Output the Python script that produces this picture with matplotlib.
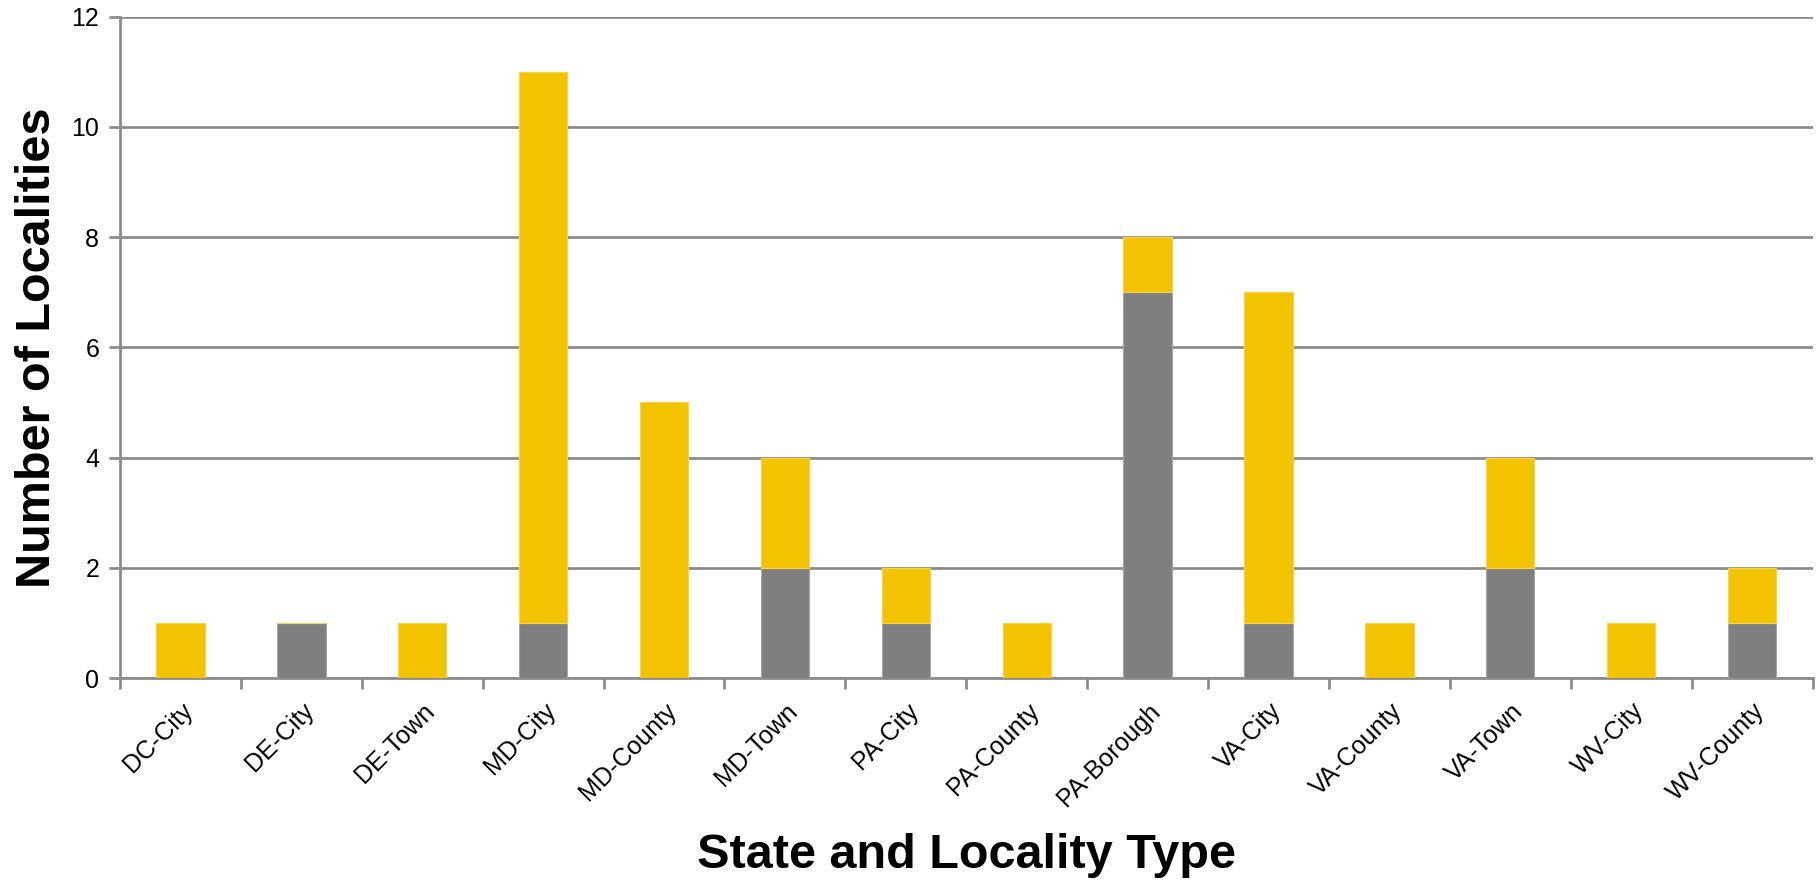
"""
Localities by state and locality type - stacked bar chart
"""

import numpy as np
import matplotlib
matplotlib.use('Agg')
import matplotlib.pyplot as plt
import matplotlib.transforms as mtransforms

matplotlib.rcParams['font.family'] = ['Liberation Sans', 'DejaVu Sans']

# data
categories = ['DC-City', 'DE-City', 'DE-Town', 'MD-City', 'MD-County', 'MD-Town',
              'PA-City', 'PA-County', 'PA-Borough', 'VA-City', 'VA-County',
              'VA-Town', 'WV-City', 'WV-County']
gray_counts = [0, 1, 0, 1, 0, 2, 1, 0, 7, 1, 0, 2, 0, 1]
yellow_counts = [1, 0, 1, 10, 5, 2, 1, 1, 1, 6, 1, 2, 1, 1]

GRAY = '#7f7f7f'
YELLOW = '#f4c300'
AXIS = '#8c8c8c'

fig = plt.figure(figsize=(18.18, 8.8), dpi=100)
ax = fig.add_axes([0.066, 0.2295, 0.931, 0.7515])

x = np.arange(len(categories))
ax.bar(x, gray_counts, width=0.4, color=GRAY, edgecolor='#a6a6a6', linewidth=0.8, zorder=3)
ax.bar(x, yellow_counts, width=0.4, bottom=gray_counts, color=YELLOW,
       edgecolor='#f7d24d', linewidth=0.8, zorder=3)

ax.set_xlim(-0.5, len(categories) - 0.5)
ax.set_ylim(0, 12)
ax.set_yticks(range(0, 13, 2))
ax.yaxis.grid(True, color=AXIS, linewidth=2, zorder=0)
ax.tick_params(axis='y', length=8, width=2, color=AXIS, labelsize=18, pad=7)

# labels at category centres, tick marks at category edges
ax.set_xticks(x)
ax.set_xticklabels(categories, rotation=45, ha='right', va='center',
                   rotation_mode='anchor', fontsize=18)
ax.set_xticks(np.arange(-0.5, len(categories)), minor=True)
ax.tick_params(axis='x', which='major', length=0, pad=21)
ax.tick_params(axis='x', which='minor', length=8, width=2, color=AXIS)
shift = mtransforms.ScaledTranslation(0.09, 0, fig.dpi_scale_trans)
for lbl in ax.get_xticklabels():
    lbl.set_transform(lbl.get_transform() + shift)

for side in ['top', 'right']:
    ax.spines[side].set_visible(False)
for side in ['left', 'bottom']:
    ax.spines[side].set_color(AXIS)
    ax.spines[side].set_linewidth(2)

ax.set_ylabel('Number of Localities', fontsize=35, fontweight='bold', labelpad=8)
ax.set_xlabel('State and Locality Type', fontsize=35, fontweight='bold', labelpad=16)

fig.savefig('out.png', dpi=100)
